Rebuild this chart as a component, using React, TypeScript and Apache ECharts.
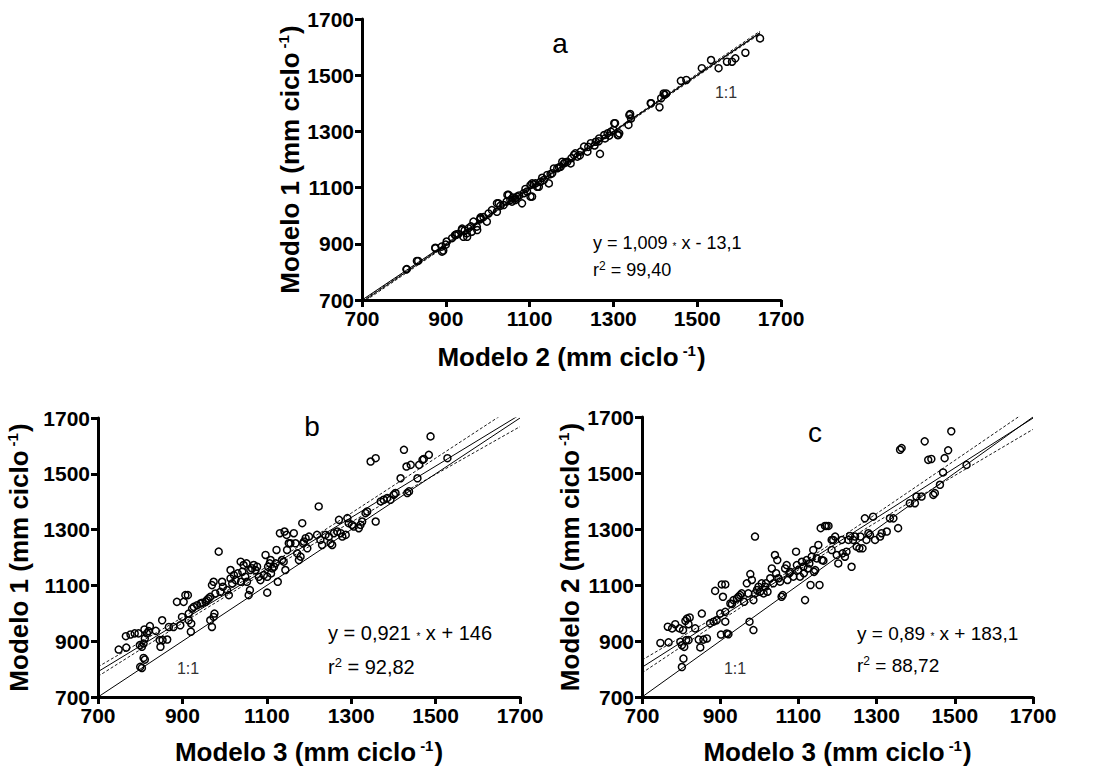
import React, { useEffect, useRef } from "react";
import * as echarts from "echarts";

const AXIS_MIN = 700;
const AXIS_MAX = 1700;
const AXIS_STEP = 200;

// Panel a: Modelo 2 (x) vs Modelo 1 (y)
const pointsA: number[][] = [
  [806, 809], [807, 810], [831, 839], [834, 839], [875, 884], [875, 886], [890, 890], [891, 872],
  [894, 876], [900, 897], [902, 908], [915, 920], [922, 931], [923, 931], [926, 934], [930, 935],
  [938, 949], [939, 954], [942, 925], [945, 948], [950, 937], [951, 925], [954, 955], [960, 962],
  [962, 943], [966, 979], [974, 961], [975, 949], [982, 987], [983, 994], [983, 990], [990, 995],
  [998, 979], [1002, 1008], [1010, 1020], [1022, 1014], [1022, 1044], [1026, 1044], [1030, 1035],
  [1038, 1038], [1045, 1050], [1047, 1074], [1050, 1074], [1054, 1056], [1058, 1050], [1060, 1065],
  [1066, 1062], [1066, 1056], [1070, 1068], [1075, 1072], [1082, 1044], [1086, 1080], [1090, 1095],
  [1094, 1086], [1102, 1109], [1102, 1068], [1106, 1068], [1106, 1115], [1110, 1112], [1114, 1115],
  [1118, 1103], [1122, 1103], [1126, 1121], [1130, 1135], [1134, 1127], [1142, 1145], [1146, 1115],
  [1150, 1148], [1154, 1151], [1158, 1168], [1166, 1169], [1170, 1172], [1174, 1174], [1178, 1192],
  [1182, 1186], [1185, 1190], [1190, 1192], [1198, 1186], [1200, 1205], [1206, 1216], [1209, 1222],
  [1214, 1210], [1220, 1215], [1222, 1228], [1230, 1246], [1238, 1228], [1240, 1245], [1246, 1258],
  [1255, 1250], [1258, 1263], [1265, 1265], [1266, 1275], [1268, 1220], [1278, 1287], [1280, 1275],
  [1286, 1293], [1290, 1285], [1294, 1299], [1300, 1305], [1302, 1329], [1304, 1329], [1310, 1287],
  [1312, 1287], [1314, 1293], [1336, 1323], [1338, 1358], [1340, 1362], [1342, 1346], [1389, 1400],
  [1390, 1400], [1410, 1386], [1414, 1418], [1420, 1435], [1422, 1430], [1426, 1435], [1461, 1480],
  [1474, 1483], [1511, 1525], [1533, 1554], [1551, 1525], [1571, 1548], [1583, 1548], [1591, 1560],
  [1615, 1580], [1650, 1631],
];

// Panel b: Modelo 3 (x) vs Modelo 1 (y)
const pointsB: number[][] = [
  [749, 870], [767, 877], [766, 918], [777, 924], [787, 928], [796, 928], [800, 808], [804, 804],
  [808, 840], [811, 834], [799, 886], [804, 880], [808, 892], [811, 910], [816, 928], [823, 954],
  [820, 936], [810, 942], [837, 937], [846, 904], [852, 975], [848, 880], [853, 904], [864, 906],
  [868, 951], [879, 951], [887, 1041], [895, 957], [899, 987], [903, 1041], [907, 1065], [913, 1065],
  [915, 975], [915, 999], [920, 934], [921, 963], [923, 1017], [927, 1023], [935, 1029], [943, 1035],
  [947, 1038], [955, 1041], [958, 1047], [962, 1053], [966, 1059], [970, 1101], [974, 1113], [966, 975],
  [970, 951], [974, 987], [976, 999], [978, 1071], [986, 1221], [990, 1077], [994, 1113], [996, 1095],
  [1006, 1083], [1010, 1065], [1014, 1155], [1014, 1125], [1018, 1107], [1022, 1137], [1026, 1119],
  [1031, 1143], [1038, 1185], [1039, 1113], [1042, 1149], [1045, 1173], [1049, 1131], [1052, 1179],
  [1053, 1113], [1057, 1065], [1060, 1083], [1061, 1155], [1065, 1161], [1069, 1173], [1073, 1155],
  [1077, 1167], [1081, 1131], [1085, 1119], [1093, 1137], [1097, 1209], [1101, 1131], [1101, 1074],
  [1103, 1167], [1107, 1179], [1109, 1191], [1110, 1143], [1113, 1161], [1117, 1167], [1121, 1179],
  [1123, 1227], [1126, 1113], [1131, 1287], [1136, 1191], [1140, 1185], [1142, 1293], [1144, 1155],
  [1147, 1281], [1148, 1227], [1152, 1251], [1156, 1251], [1164, 1287], [1168, 1251], [1172, 1215],
  [1176, 1191], [1180, 1203], [1184, 1323], [1186, 1251], [1188, 1257], [1192, 1269], [1196, 1233],
  [1200, 1275], [1219, 1281], [1223, 1383], [1227, 1263], [1231, 1245], [1239, 1281], [1247, 1275],
  [1251, 1251], [1255, 1245], [1259, 1287], [1267, 1293], [1275, 1287], [1271, 1335], [1279, 1275],
  [1287, 1281], [1291, 1341], [1294, 1323], [1302, 1317], [1306, 1311], [1318, 1305], [1322, 1317],
  [1326, 1329], [1334, 1359], [1338, 1365], [1346, 1544], [1358, 1556], [1358, 1329], [1370, 1401],
  [1377, 1407], [1385, 1413], [1393, 1407], [1401, 1425], [1405, 1431], [1417, 1484], [1425, 1586],
  [1431, 1526], [1433, 1431], [1437, 1437], [1441, 1532], [1457, 1484], [1461, 1532], [1469, 1550],
  [1472, 1553], [1484, 1568], [1488, 1634], [1528, 1556],
];

// Panel c: Modelo 3 (x) vs Modelo 2 (y)
const pointsC: number[][] = [
  [747, 893], [768, 895], [766, 951], [777, 945], [785, 960], [796, 945], [805, 939], [811, 972],
  [815, 980], [819, 960], [822, 984], [836, 945], [853, 998], [802, 807], [806, 837], [798, 897],
  [802, 885], [808, 879], [813, 903], [819, 903], [845, 905], [849, 877], [857, 905], [866, 909],
  [874, 963], [883, 969], [887, 1079], [891, 974], [900, 998], [902, 923], [904, 1102], [907, 1058],
  [913, 1102], [913, 969], [913, 1004], [917, 927], [921, 924], [926, 1034], [930, 1032], [934, 1046],
  [943, 1052], [947, 1058], [951, 1064], [955, 1070], [961, 1040], [968, 1106], [972, 1070], [975, 969],
  [977, 1139], [981, 1118], [985, 1046], [985, 939], [989, 1070], [989, 1273], [994, 1082], [998, 1094],
  [1002, 1076], [1006, 1106], [1011, 1070], [1015, 1094], [1017, 1106], [1021, 1076], [1028, 1124],
  [1032, 1159], [1036, 1106], [1040, 1207], [1043, 1142], [1046, 1189], [1049, 1124], [1053, 1112],
  [1057, 1058], [1060, 1064], [1066, 1159], [1070, 1171], [1072, 1118], [1077, 1142], [1079, 1147],
  [1087, 1130], [1094, 1219], [1096, 1171], [1100, 1153], [1104, 1130], [1109, 1183], [1113, 1165],
  [1114, 1142], [1117, 1046], [1121, 1189], [1124, 1159], [1128, 1177], [1131, 1100], [1134, 1201],
  [1138, 1225], [1140, 1147], [1143, 1153], [1147, 1195], [1151, 1243], [1154, 1100], [1157, 1303],
  [1160, 1189], [1164, 1187], [1168, 1311], [1172, 1311], [1177, 1311], [1185, 1261], [1185, 1225],
  [1189, 1261], [1194, 1273], [1198, 1207], [1202, 1177], [1211, 1261], [1213, 1213], [1219, 1201],
  [1223, 1219], [1228, 1261], [1232, 1275], [1236, 1165], [1240, 1261], [1245, 1273], [1249, 1237],
  [1256, 1231], [1259, 1273], [1264, 1231], [1270, 1338], [1274, 1261], [1279, 1285], [1283, 1279],
  [1291, 1344], [1296, 1261], [1309, 1273], [1313, 1285], [1326, 1291], [1334, 1338], [1343, 1338],
  [1355, 1303], [1360, 1583], [1364, 1589], [1385, 1392], [1398, 1392], [1402, 1416], [1415, 1416],
  [1423, 1613], [1432, 1547], [1440, 1550], [1445, 1422], [1449, 1428], [1462, 1458], [1470, 1502],
  [1474, 1553], [1483, 1581], [1491, 1649], [1530, 1529],
];

// Reference and fitted lines (endpoints)
const oneToOneA: number[][] = [[700, 700], [1650, 1650]];
const regressionA: number[][] = [[700, 693.2], [1650, 1651.8]];
const upperA: number[][] = [[700, 697], [1100, 1098.5], [1650, 1657]];
const lowerA: number[][] = [[700, 689], [1100, 1094.5], [1650, 1647]];

const oneToOneB: number[][] = [[700, 700], [1700, 1700]];
const regressionB: number[][] = [[700, 790.7], [1700, 1711.7]];
const upperB: number[][] = [[700, 808], [900, 985], [1100, 1167], [1300, 1359], [1500, 1556], [1700, 1754]];
const lowerB: number[][] = [[700, 774], [900, 965], [1100, 1151], [1300, 1327], [1500, 1498], [1700, 1669]];

const oneToOneC: number[][] = [[700, 700], [1700, 1700]];
const regressionC: number[][] = [[700, 806.1], [1700, 1696.1]];
const upperC: number[][] = [[700, 832], [900, 996], [1100, 1170], [1300, 1355], [1500, 1545], [1700, 1736]];
const lowerC: number[][] = [[700, 786], [900, 972], [1100, 1154], [1300, 1325], [1500, 1491], [1700, 1656]];

const xNames = ["Modelo 2", "Modelo 3", "Modelo 3"];
const yNames = ["Modelo 1", "Modelo 1", "Modelo 2"];
const panelLetters = ["a", "b", "c"];
const equations = ["y = 1,009 ", "y = 0,921 ", "y = 0,89 "];
const equationTails = [" x - 13,1", " x + 146", " x + 183,1"];
const r2Values = [" = 99,40", " = 92,82", " = 88,72"];

const FONT = "Liberation Sans, Arial, Helvetica, sans-serif";

export default function App() {
  const ref = useRef<HTMLDivElement>(null);

  useEffect(() => {
    if (!ref.current) return;
    const chart = echarts.init(ref.current, undefined, { renderer: "svg" });

    const grids = [
      { left: 362, top: 19, width: 419, height: 281 },
      { left: 98, top: 418, width: 422, height: 279 },
      { left: 642, top: 417, width: 391, height: 280 },
    ];
    const xNameGaps = [43, 41, 41];
    const yNameGaps = [55, 65, 57];

    const nameRich = {
      t: { fontSize: 26, fontWeight: "bold", fontFamily: FONT, color: "#000" },
      s: { fontSize: 15, fontWeight: "bold", fontFamily: FONT, color: "#000", padding: [0, 1, 13, 4] },
    };

    const axisCommon = (i: number) => ({
      type: "value" as const,
      gridIndex: i,
      min: AXIS_MIN,
      max: AXIS_MAX,
      interval: AXIS_STEP,
      nameLocation: "middle" as const,
      axisLine: { show: true, lineStyle: { color: "#000", width: 3 } },
      axisTick: { show: true, length: 7, lineStyle: { color: "#000", width: 3 } },
      axisLabel: {
        fontSize: 21,
        fontWeight: "bold",
        color: "#000",
        fontFamily: FONT,
        margin: 8,
        formatter: (v: number) => String(v),
      },
      splitLine: { show: false },
      nameTextStyle: { rich: nameRich },
    });

    const xAxis = grids.map((_, i) => ({
      ...axisCommon(i),
      name: `{t|${xNames[i]} (mm ciclo}{s|-1}{t|)}`,
      nameGap: xNameGaps[i],
    }));
    const yAxis = grids.map((_, i) => ({
      ...axisCommon(i),
      name: `{t|${yNames[i]} (mm ciclo}{s|-1}{t|)}`,
      nameGap: yNameGaps[i],
    }));

    const lineSeries = (i: number, data: number[][], dashed: boolean) => ({
      type: "line",
      xAxisIndex: i,
      yAxisIndex: i,
      data,
      symbol: "none",
      showSymbol: false,
      silent: true,
      clip: true,
      z: 2,
      lineStyle: { color: "#000", width: dashed ? 0.9 : 1, type: dashed ? [3, 2] : "solid" },
    });
    const scatterSeries = (i: number, data: number[][]) => ({
      type: "scatter",
      xAxisIndex: i,
      yAxisIndex: i,
      data,
      symbol: "circle",
      symbolSize: 7,
      z: 3,
      itemStyle: { color: "rgba(0,0,0,0)", borderColor: "#000", borderWidth: 1.5, opacity: 1 },
    });

    const panels = [
      { pts: pointsA, one: oneToOneA, reg: regressionA, up: upperA, lo: lowerA },
      { pts: pointsB, one: oneToOneB, reg: regressionB, up: upperB, lo: lowerB },
      { pts: pointsC, one: oneToOneC, reg: regressionC, up: upperC, lo: lowerC },
    ];
    const series: any[] = [];
    panels.forEach((p, i) => {
      series.push(lineSeries(i, p.one, false));
      series.push(lineSeries(i, p.reg, false));
      series.push(lineSeries(i, p.up, true));
      series.push(lineSeries(i, p.lo, true));
      series.push(scatterSeries(i, p.pts));
    });

    const letterPos = [[560, 43], [312, 426], [815, 432]];
    const eqPos = [[593, 243, 270], [328, 633, 667], [857, 633, 665]];
    const eqSize = [18, 20, 19];
    const oneToOnePos = [[726, 92], [188, 668], [735, 668]];

    const graphic: any[] = [];
    panelLetters.forEach((l, i) => {
      graphic.push({
        type: "text",
        x: letterPos[i][0],
        y: letterPos[i][1],
        silent: true,
        style: {
          text: l,
          fontSize: 28,
          fontFamily: FONT,
          fill: "#000",
          align: "center",
          verticalAlign: "middle",
        },
      });
      const fs = eqSize[i];
      graphic.push({
        type: "text",
        x: eqPos[i][0],
        y: eqPos[i][1],
        silent: true,
        style: {
          text: `{t|${equations[i]}}{a|*}{t|${equationTails[i]}}`,
          align: "left",
          verticalAlign: "middle",
          rich: {
            t: { fontSize: fs, fontFamily: FONT, fill: "#000" },
            a: { fontSize: 10, fontFamily: FONT, fill: "#000", padding: [7, 0, 0, 0] },
          },
        },
      });
      graphic.push({
        type: "text",
        x: eqPos[i][0],
        y: eqPos[i][2],
        silent: true,
        style: {
          text: `{t|r}{s|2}{t|${r2Values[i]}}`,
          align: "left",
          verticalAlign: "middle",
          rich: {
            t: { fontSize: fs, fontFamily: FONT, fill: "#000" },
            s: { fontSize: Math.round(fs * 0.65), fontFamily: FONT, fill: "#000", padding: [0, 0, 9, 0] },
          },
        },
      });
      graphic.push({
        type: "text",
        x: oneToOnePos[i][0],
        y: oneToOnePos[i][1],
        silent: true,
        style: {
          text: "1:1",
          fontSize: 16,
          fontFamily: FONT,
          fill: "#333",
          align: "center",
          verticalAlign: "middle",
        },
      });
    });

    chart.setOption({
      animation: false,
      backgroundColor: "#fff",
      textStyle: { fontFamily: FONT },
      grid: grids,
      xAxis,
      yAxis,
      series,
      graphic,
    });

    return () => chart.dispose();
  }, []);

  return (
    <div
      ref={ref}
      style={{ position: "absolute", left: 0, top: 0, width: 1101, height: 774, background: "#fff" }}
    />
  );
}
